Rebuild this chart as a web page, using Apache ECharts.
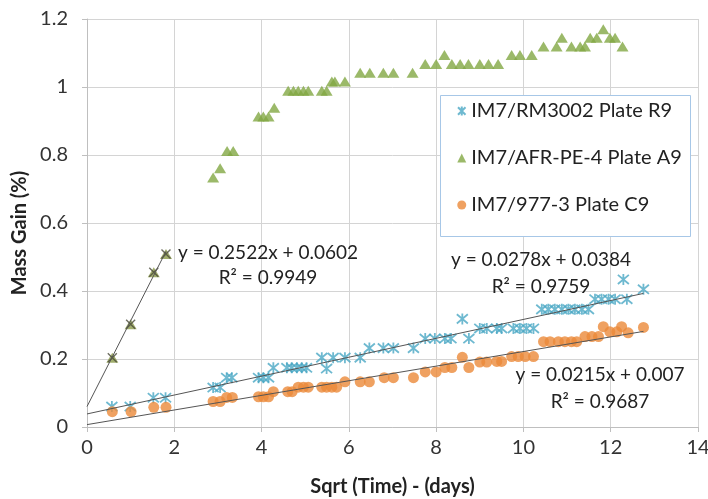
<!DOCTYPE html>
<html>
<head>
<meta charset="utf-8">
<script src="https://cdn.jsdelivr.net/npm/echarts/dist/echarts.min.js"></script>
<style>
html,body{margin:0;padding:0;background:#fff;}
#chart{width:708px;height:499px;}
</style>
</head>
<body>
<div id="chart"></div>
<script>
// IM7/RM3002 Plate R9
var r9X = [0.57,0.99,1.52,1.80, 2.89,3.05,3.20,3.32, 3.93,4.04,4.16,4.27, 4.58,4.69,4.81,4.92,5.03,
    5.38,5.49,5.64,5.91, 6.26,6.47,6.79,7.02, 7.48,7.75,7.97,8.20,8.34, 8.60,8.75, 9.00,9.16,9.39,9.50,
    9.77,9.92,10.07,10.23, 10.42,10.57,10.72,10.88,11.03,11.18,11.34,11.49, 11.64,11.79,11.95,12.10,
    12.29,12.37,12.75];
var r9Y = [0.06,0.06,0.086,0.086, 0.116,0.116,0.145,0.145, 0.145,0.145,0.145,0.174, 0.174,0.174,0.174,0.174,0.174,
    0.204,0.172,0.204,0.204, 0.204,0.232,0.232,0.232, 0.232,0.26,0.26,0.26,0.26, 0.318,0.26, 0.29,0.29,0.29,0.29,
    0.29,0.29,0.29,0.29, 0.346,0.346,0.346,0.346,0.346,0.346,0.346,0.346, 0.376,0.376,0.376,0.376,
    0.434,0.376,0.405];
// IM7/AFR-PE-4 Plate A9
var a9X = [2.89,3.05,3.21,3.35, 3.93,4.04,4.16,4.29, 4.61,4.73,4.84,4.96,5.07, 5.38,5.49, 5.61,5.68,5.91,
    6.26,6.48,6.79,7.02,7.46, 7.75,8.00, 8.19, 8.36,8.55,8.74,9.00,9.20,9.42, 9.73,9.92,10.19,
    10.46,10.76, 10.88, 11.10,11.30,11.41, 11.53,11.68, 11.83, 11.98,12.10, 12.27];
var a9Y = [0.734,0.761,0.812,0.812, 0.913,0.913,0.913,0.939, 0.989,0.989,0.989,0.989,0.989, 0.989,0.989, 1.016,1.016,1.016,
    1.042,1.042,1.042,1.042,1.042, 1.068,1.068, 1.094, 1.068,1.068,1.068,1.068,1.068,1.068, 1.094,1.094,1.094,
    1.119,1.119, 1.145, 1.119,1.119,1.119, 1.145,1.145, 1.17, 1.145,1.145, 1.119];
// IM7/977-3 Plate C9
var c9X = [0.58,1.01,1.53,1.81, 2.89,3.05,3.20,3.33, 3.93,4.04,4.16,4.27, 4.60,4.70,4.84,4.96,5.07,
    5.38,5.49,5.61,5.72, 5.91,6.26,6.47, 6.81,7.02,7.48, 7.75,8.00,8.20,8.36, 8.60,8.75, 9.00,9.16,9.39,9.50,
    9.73,9.88,10.04,10.23, 10.46,10.61,10.80,10.95,11.10,11.22, 11.41,11.57,11.72,
    11.83,11.98,12.14,12.25,12.40,12.75];
var c9Y = [0.045,0.045,0.058,0.058, 0.075,0.075,0.087,0.087, 0.089,0.089,0.089,0.104, 0.104,0.104,0.117,0.117,0.117,
    0.117,0.117,0.117,0.117, 0.133,0.133,0.133, 0.145,0.145,0.145, 0.162,0.162,0.175,0.175, 0.205,0.175, 0.191,0.191,0.193,0.193,
    0.207,0.207,0.207,0.207, 0.251,0.251,0.251,0.251,0.251,0.251, 0.266,0.266,0.266,
    0.295,0.28,0.28,0.295,0.277,0.293];
// early points of the A9 plate (fit separately)
var earlyX = [0.58,1.00,1.53,1.81];
var earlyY = [0.204,0.302,0.455,0.509];

// linear fits shown on the chart
var fitSlope = [0.2522, 0.0278, 0.0215];
var fitIntercept = [0.0602, 0.0384, 0.007];
var fitEnd = [1.81, 12.75, 12.75];
var fitText = ['y = 0.2522x + 0.0602', 'y = 0.0278x + 0.0384', 'y = 0.0215x + 0.007'];
var r2Text = ['R\u00b2 = 0.9949', 'R\u00b2 = 0.9759', 'R\u00b2 = 0.9687'];

var names = ['IM7/RM3002 Plate R9', 'IM7/AFR-PE-4 Plate A9', 'IM7/977-3 Plate C9'];
var xTicks = [0, 14, 2];
var yTicks = [0, 1.2, 0.2];

var FONT = 'Lato, "Open Sans", sans-serif';
var starPath = 'path://M0,0L10,10M10,0L0,10M5,-1L5,11';
var crossPath = 'path://M0,0L10,10M10,0L0,10';

function pairs(xs, ys) {
    return xs.map(function (x, i) { return [x, ys[i]]; });
}

var chart = echarts.init(document.getElementById('chart'));

var series = [
    {
        name: names[0], type: 'scatter', data: pairs(r9X, r9Y),
        symbol: starPath, symbolSize: 11,
        itemStyle: { color: 'rgba(0,0,0,0)', borderColor: '#4aa8c4', borderWidth: 1.8 }
    },
    {
        name: names[1], type: 'scatter', data: pairs(a9X, a9Y),
        symbol: 'triangle', symbolSize: [12, 10],
        itemStyle: { color: '#82a744' }
    },
    {
        name: names[2], type: 'scatter', data: pairs(c9X, c9Y),
        symbol: 'circle', symbolSize: 11,
        itemStyle: { color: '#eb8a3a' }
    },
    {
        name: 'early', type: 'scatter', data: pairs(earlyX, earlyY),
        symbol: 'triangle', symbolSize: [12, 10],
        itemStyle: { color: '#8a9a48' }
    },
    {
        name: 'early2', type: 'scatter', data: pairs(earlyX, earlyY),
        symbol: crossPath, symbolSize: 9,
        itemStyle: { color: 'rgba(0,0,0,0)', borderColor: '#4a4a3a', borderWidth: 1.4 }
    }
];

for (var i = 0; i < fitSlope.length; i++) {
    series.push({
        name: 'fit' + i, type: 'line', silent: true, symbol: 'none', z: 3,
        data: [[0, fitIntercept[i]], [fitEnd[i], fitSlope[i] * fitEnd[i] + fitIntercept[i]]],
        lineStyle: { color: '#555', width: 1 }
    });
}

// equation label positions (pixels)
var eqPos = [[268, 253, 268, 278], [541, 260, 541, 287], [600, 375, 600, 402]];
var graphics = [{
    type: 'rect', z: 3,
    shape: { x: 440.5, y: 95.5, width: 250, height: 141 },
    style: { fill: '#fff', stroke: '#a7c7e7', lineWidth: 1 }
}];
for (var j = 0; j < eqPos.length; j++) {
    graphics.push({
        type: 'text', z: 5,
        style: { text: fitText[j], x: eqPos[j][0], y: eqPos[j][1], textAlign: 'center', textVerticalAlign: 'middle',
            font: '19px ' + FONT, fill: '#222' }
    });
    graphics.push({
        type: 'text', z: 5,
        style: { text: r2Text[j], x: eqPos[j][2], y: eqPos[j][3], textAlign: 'center', textVerticalAlign: 'middle',
            font: '19px ' + FONT, fill: '#222' }
    });
}

var option = {
    animation: false,
    backgroundColor: '#fff',
    textStyle: { fontFamily: FONT },
    grid: { left: 87, right: 10, top: 19, bottom: 72, outerBoundsMode: 'none', containLabel: false },
    legend: {
        data: names,
        orient: 'vertical',
        left: 452, top: 96,
        itemGap: 27,
        itemWidth: 9, itemHeight: 9,
        z: 6,
        textStyle: { fontSize: 20, color: '#222', fontFamily: FONT }
    },
    xAxis: {
        type: 'value', min: xTicks[0], max: xTicks[1], interval: xTicks[2],
        name: 'Sqrt (Time) - (days)', nameLocation: 'middle', nameGap: 50,
        nameTextStyle: { fontSize: 20, fontWeight: 'bold', color: '#222', fontFamily: FONT },
        axisLine: { lineStyle: { color: '#bfbfbf' } },
        axisTick: { show: true, length: 5, lineStyle: { color: '#bfbfbf' } },
        axisLabel: { fontSize: 20, color: '#333', margin: 11 },
        splitLine: { lineStyle: { color: '#d4d4d4' } }
    },
    yAxis: {
        type: 'value', min: yTicks[0], max: yTicks[1], interval: yTicks[2],
        name: 'Mass Gain (%)', nameLocation: 'middle', nameGap: 43,
        nameTextStyle: { fontSize: 20, fontWeight: 'bold', color: '#222', fontFamily: FONT, padding: [0, 20, 0, 0] },
        axisLine: { show: true, lineStyle: { color: '#bfbfbf' } },
        axisTick: { show: true, length: 5, lineStyle: { color: '#bfbfbf' } },
        axisLabel: { fontSize: 20, color: '#333', margin: 19 },
        splitLine: { lineStyle: { color: '#d4d4d4' } }
    },
    series: series,
    graphic: graphics
};

chart.setOption(option);
window.onresize = chart.resize;
</script>
</body>
</html>
